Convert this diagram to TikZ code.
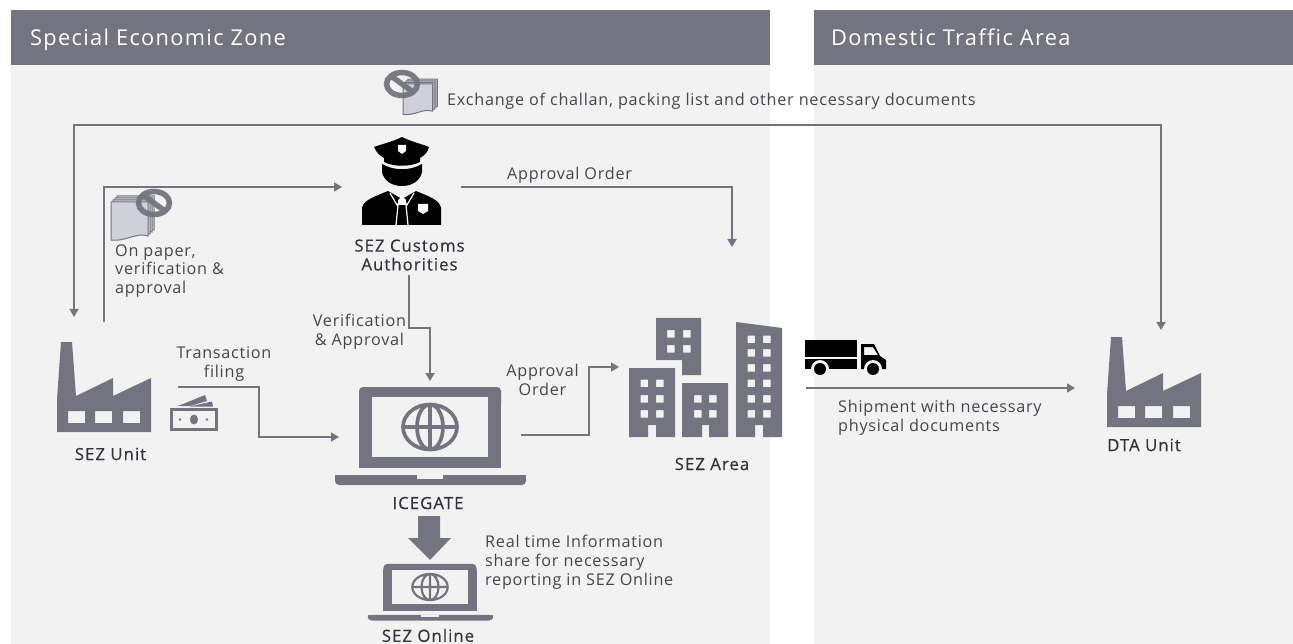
\documentclass[tikz,border=0pt]{standalone}
\usepackage{fontspec}
\setmainfont[LetterSpace=4.6,Ligatures=NoCommon]{Open Sans}
\newfontfamily\medfont[FakeBold=0.4,LetterSpace=6,Ligatures=NoCommon]{Open Sans}
\newfontfamily\headfont[LetterSpace=6,Ligatures=NoCommon]{Open Sans}
\usetikzlibrary{arrows.meta}
\definecolor{sezgray}{HTML}{747480}
\definecolor{panelbg}{HTML}{F2F2F2}
\definecolor{sheet}{HTML}{D0D0DA}
\definecolor{inktext}{HTML}{45454F}
\definecolor{inkdark}{HTML}{33333D}
\tikzset{
  headbar/.style={fill=sezgray},
  headtext/.style={text=white,anchor=base west,inner sep=0pt,font=\headfont\fontsize{21.8}{24}\selectfont},
  flow/.style={line width=1.7pt,draw=sezgray,-{Triangle[length=8pt,width=9pt]}},
  note/.style={text=inktext,font=\fontsize{16.2}{18.8}\selectfont,inner sep=0pt,yshift=-2pt},
  unitname/.style={text=inkdark,font=\medfont\fontsize{16.8}{18.8}\selectfont,inner sep=0pt,align=center},
  pics/factory/.style={code={
    \fill[sezgray,even odd rule] (4,0)--(15,0)--(19,54)--(56,36)--(56,54)--(94,36)--(94,90)--(0,90)--(0,57)--cycle
      (11,69) rectangle (28,81) (38,69) rectangle (55,81) (66,69) rectangle (83,81);
  }},
  pics/laptop/.style={code={
    \fill[sezgray,rounded corners=4pt] (-71,-40) rectangle (71,-20);
    \fill[sezgray] (-71,-30) rectangle (71,41);
    \fill[panelbg] (-58,-30) rectangle (58,30);
    \fill[sezgray,rounded corners=4pt] (-95,48) rectangle (96,58);
    \fill[sezgray] (-95,48) rectangle (96,53);
    \fill[panelbg] (-13,48) rectangle (13,52);
    \draw[sezgray,line width=#1] (0,0) ellipse [x radius=27,y radius=22.5]
      (0,0) ellipse [x radius=13,y radius=22.5] (0,-22.5)--(0,22.5) (-27,0)--(27,0);
  }},
  pics/paperstack/.style={code={
    \foreach \d in {6,4,2,0}
      \draw[sezgray,fill=sheet,line width=1pt,shift={(\d,-\d)}] (0,0)--(37,0)--(37,34) .. controls (25,30) and (15,40) .. (0,38)--cycle;
  }},
  pics/nostamp/.style={code={
    \draw[sezgray,line width=5.5pt,opacity=.95] (0,0) ellipse [x radius=15.5,y radius=11.5] (-11,-8)--(11,8);
  }}
}
\begin{document}
\begin{tikzpicture}[x=1pt,y=-1pt]
\useasboundingbox (0,0) rectangle (1293,644);

%Panels
\fill[panelbg] (11,65) rectangle (770,644);
\fill[panelbg] (814,65) rectangle (1293,644);
\fill[headbar] (11,10) rectangle (770,65);
\fill[headbar] (814,10) rectangle (1293,65);
\node[headtext] (sezhead) at (30,46) {Special Economic Zone};
\node[headtext] (dtahead) at (831,46) {Domestic Traffic Area};

%Factories
\pic at (57,342) {factory};
\pic at (1107,337) {factory};
\node[unitname] (sezunit) at (110.5,454) {SEZ Unit};
\node[unitname] (dtaunit) at (1144,445) {DTA Unit};

%Officer
\fill[black] (402,137) .. controls (412,142) and (422,144) .. (429,147) .. controls (428,152) and (424,156) .. (420,158)
  -- (420,162) .. controls (410,167) and (394,167) .. (384,162) -- (384,158) .. controls (380,156) and (376,152) .. (374,147)
  .. controls (382,144) and (392,142) .. (402,137) -- cycle;
\fill[white] (398,145) -- (406,145) -- (406,151) -- (402,154) -- (398,151) -- cycle;
\fill[black] (382,164) .. controls (394,171) and (410,171) .. (422,164) -- (422,172) .. controls (420,181) and (412,186) .. (402,186)
  .. controls (392,186) and (384,181) .. (382,172) -- cycle;
\fill[black] (362,225) -- (362,208) .. controls (363,200) and (376,196) .. (388,191) -- (402,199) -- (416,191)
  .. controls (428,196) and (440,200) .. (441,208) -- (441,225) -- cycle;
\draw[white,line width=1.2pt] (390,193) -- (397,205) -- (402,199) -- (407,205) -- (414,193);
\fill[white] (398,200) -- (402,196) -- (406,200) -- (406,205) -- (398,205) -- cycle;
\draw[white,line width=1.2pt] (398,205) -- (396,225) (406,205) -- (408,225);
\fill[white] (418,204) -- (428,204) -- (428,211) -- (423,214) -- (418,211) -- cycle;
\node[unitname] (customs) at (409.5,255) {SEZ Customs\\Authorities};

%Laptops
\pic at (430,427) {laptop=3.7};
\pic[xscale=.655,yscale=.58] at (430,587) {laptop=2.2};
\node[unitname] (icegate) at (428,503) {ICEGATE};
\node[unitname] (sezonline) at (428,635.5) {SEZ Online};
\fill[sezgray] (418,516) -- (440,516) -- (440,538) -- (451,538) -- (430,560) -- (408,538) -- (418,538) -- cycle;

%Buildings
\fill[sezgray,even odd rule] (656,318)--(701,318)--(701,375)--(682,375)--(682,360)--(656,360)--cycle
  \foreach \wx in {667,683} { \foreach \wy in {330,345} { (\wx,\wy) rectangle ++(7.5,7.5) } };
\fill[sezgray,even odd rule] (629,368)--(675,368)--(675,437)--(656,437)--(656,425)--(648,425)--(648,437)--(629,437)--cycle
  \foreach \wx in {640.5,656} { \foreach \wy in {379.5,395,410} { (\wx,\wy) rectangle ++(7.5,7.5) } };
\fill[sezgray,even odd rule] (682,383)--(728,383)--(728,437)--(709,437)--(709,425)--(702,425)--(702,437)--(682,437)--cycle
  \foreach \wx in {694,709} { \foreach \wy in {395,410} { (\wx,\wy) rectangle ++(7.5,7.5) } };
\fill[sezgray,even odd rule] (736,322)--(782,328)--(782,437)--(763,437)--(763,425)--(755,425)--(755,437)--(736,437)--cycle
  \foreach \wx in {747.5,763} { \foreach \wy in {335.5,349,364,379.5,395,410} { (\wx,\wy) rectangle ++(7.5,7.5) } };
\node[unitname] (sezarea) at (712,464) {SEZ Area};

%Truck
\fill[black] (805,340) rectangle (857,357);
\fill[black] (805,359) rectangle (857,369);
\fill[black,even odd rule] (861,344)--(874,344)--(880,356)--(886,360)--(886,369)--(861,369)--cycle
  (864,347)--(873,347)--(878,355)--(864,355)--cycle;
\fill[panelbg] (820,369) circle (9) (873,369) circle (9);
\fill[black] (820,369) circle (6) (873,369) circle (6);

%Papers and money
\pic[scale=.8] at (403,84) {paperstack};
\pic at (402,84) {nostamp};
\pic at (111,202) {paperstack};
\pic at (154,203) {nostamp};
\draw[sezgray,line width=2.5pt] (171.5,409.5) rectangle (216.5,429.5);
\fill[sezgray] (194,419.5) ellipse [x radius=4,y radius=5] (180,419.5) circle (1.4) (207,419.5) circle (1.4);
\fill[sezgray] (178,406) -- (205,395) -- (207,401) -- (190,406) -- cycle (190,406.5) -- (212,401.5) -- (213,406.5) -- cycle;

%Notes
\node[note,anchor=west] (exchange) at (447,99) {Exchange of challan, packing list and other necessary documents};
\node[note,anchor=west] (orderone) at (507,173) {Approval Order};
\node[note,anchor=west,align=left] (onpaper) at (115,269) {On paper,\\verification \&\\approval};
\node[note,align=center] (verify) at (359.5,330) {Verification\\\& Approval};
\node[note,align=center] (filing) at (224,362) {Transaction\\filing};
\node[note,align=center] (ordertwo) at (542.5,378) {Approval\\Order};
\node[note,anchor=west,align=left] (realtime) at (485,560.5) {Real time Information\\share for necessary\\reporting in SEZ Online};
\node[note,anchor=west,align=left] (shipment) at (838,415.5) {Shipment with necessary\\physical documents};

%Connector ends
\coordinate (unitin) at (74,317);
\coordinate (dtain) at (1161,330);
\coordinate (unitout) at (104,322);
\coordinate (customsin) at (342,187);
\coordinate (customsout) at (461,187);
\coordinate (orderend) at (732,247);
\coordinate (customsdown) at (409,275);
\coordinate (gatein) at (430,381);
\coordinate (filestart) at (178,387);
\coordinate (gatefile) at (339,437);
\coordinate (gateout) at (521,435);
\coordinate (areain) at (619,367);
\coordinate (shipstart) at (806,388);
\coordinate (dtaship) at (1075,388);

%Arrows
\draw[flow,{Triangle[length=8pt,width=9pt]}-{Triangle[length=8pt,width=9pt]}] (unitin) -- (unitin |- 0,125) -- (dtain |- 0,125) -- (dtain);
\draw[flow] (unitout) |- (customsin);
\draw[flow] (customsout) -| (orderend);
\draw[flow] (customsdown) -- (customsdown |- 0,328) -- (gatein |- 0,328) -- (gatein);
\draw[flow] (filestart) -- (259,387) -- (259,437) -- (gatefile);
\draw[flow] (gateout) -- (589,435) -- (589,367) -- (areain);
\draw[flow] (shipstart) -- (dtaship);
\end{tikzpicture}
\end{document}
